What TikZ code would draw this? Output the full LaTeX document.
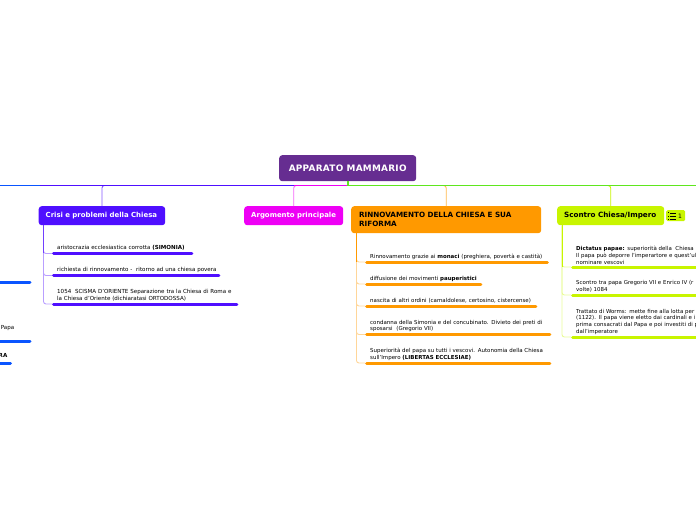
\documentclass[tikz,border=0pt]{standalone}
\usepackage{fontspec}
\setmainfont{DejaVu Sans}
\begin{document}
\begin{tikzpicture}[x=1pt,y=-1pt,
 topic/.style={rounded corners=3pt,anchor=north west,inner sep=0pt,font=\fontsize{6.95}{8.4}\selectfont\bfseries,align=left},
 leaf/.style={anchor=south west,inner xsep=5pt,inner ysep=2.6pt,align=left,font=\fontsize{5.55}{6.5}\selectfont},
 leafr/.style={leaf,font=\fontsize{5.48}{6.5}\selectfont},
 leafs/.style={leaf,font=\fontsize{5.45}{6.6}\selectfont},
 underl/.style={line width=3pt,line cap=round,shorten <=1.5pt,shorten >=1.5pt},
 stem/.style={line width=.9pt,rounded corners=2.5pt},
 main/.style={line width=1pt}]
\useasboundingbox (0,0) rectangle (696,520);
\clip (0,0) rectangle (696,520);
\definecolor{rootc}{HTML}{662D91}
\definecolor{cblue}{HTML}{0A55FF}
\definecolor{cviol}{HTML}{4F0FFF}
\definecolor{cmag}{HTML}{EE00F5}
\definecolor{corg}{HTML}{FF9900}
\definecolor{clime}{HTML}{C8F500}
\definecolor{cgrn}{HTML}{5FE61E}

\node[topic,fill=rootc,text=white,minimum width=137pt,minimum height=26pt,align=center,font=\fontsize{8.9}{9}\selectfont\bfseries] (root) at (279,155) {\addfontfeature{LetterSpace=3}APPARATO MAMMARIO};
\node[topic,fill=cviol,text=white,minimum height=19pt,text width=112.5pt,inner xsep=7pt] (crisi) at (38.5,206) {Crisi e problemi della Chiesa};
\node[topic,fill=cmag,text=white,minimum height=19pt,text width=85pt,inner xsep=7pt] (arg) at (244,206) {Argomento principale};
\node[topic,fill=corg,text=black,minimum height=27pt,text width=174pt,inner xsep=8pt,font=\fontsize{7.2}{9}\selectfont\bfseries] (rinn) at (351,206) {RINNOVAMENTO DELLA CHIESA E SUA\\RIFORMA};
\node[topic,fill=clime,text=black,minimum height=19pt,text width=93pt,inner xsep=7pt,font=\fontsize{7.2}{8.4}\selectfont\bfseries] (sco) at (557,206) {\mbox{Scontro Chiesa/Impero}};
\node[rounded corners=1.5pt,fill=clime,anchor=north west,minimum width=19pt,minimum height=11pt,inner sep=0pt] (badge) at (666,210) {};
\node[anchor=center,inner sep=0pt,font=\fontsize{6}{7}\selectfont] (badgen) at (680,216) {1};
\foreach \yy in {212.9,216,219.1}{
 \fill (668,\yy-.5) rectangle (669,\yy+.5);
 \fill (670,\yy-.35) rectangle (676,\yy+.35);}

% main branches
\coordinate (hl) at (0,185.5);
\coordinate (hr) at (696,185.5);
\coordinate (j) at (348,185.5);
\coordinate (v1) at (294,185.5);
\coordinate (v2) at (40,185.5);
\draw[stem,draw=corg!70] (rinn.north) |- (j);
\draw[stem,draw=cviol!70] (crisi.north) |- (j);
\draw[stem,draw=cmag!60] (arg.north) |- (j);
\draw[stem,draw=clime] (sco.north) |- (j);
\draw[main,draw=cgrn] (j) -- (hr);
\draw[main,draw=cmag] (j) -- (v1);
\draw[main,draw=cviol] (v1) -- (v2);
\draw[main,draw=cblue] (v2) -- (hl);
\draw[line width=1.4pt,draw=cgrn] (root.south -| j) -- (j);

% Crisi leaves
\node[leaf,text width=131pt] (c1) at (52,253.5) {\mbox{aristocrazia ecclesiastica corrotta \textbf{(SIMONIA)}}};
\node[leaf,text width=158pt] (c2) at (52,275.5) {\mbox{richiesta di rinnovamento -\ \ ritorno ad una chiesa povera}};
\node[leaf,text width=176pt] (c3) at (52,304) {\mbox{1054\ \ SCISMA D'ORIENTE Separazione tra la Chiesa di Roma e}\\la Chiesa d'Oriente (dichiaratasi ORTODOSSA)};
\foreach \n in {c1,c2,c3}{
 \draw[stem,draw=cviol!40] (crisi.south west -| 43.5,0) |- (\n.south west);
 \draw[underl,draw=cviol] (\n.south west) -- (\n.south east);}
\draw[line width=.9pt,draw=cviol!80] (43.5,225) -- (43.5,253);

% Rinnovamento leaves
\node[leafr,text width=173.5pt] (r1) at (365,262) {\mbox{Rinnovamento grazie ai \textbf{monaci} (preghiera, povertà e castità)}};
\node[leafr,text width=107pt] (r2) at (365,284) {\mbox{diffusione dei movimenti \textbf{pauperistici}}};
\node[leafr,text width=162pt] (r3) at (365,306) {\mbox{nascita di altri ordini (camaldolese, certosino, cistercense)}};
\node[leafr,text width=176pt] (r4) at (365,334.5) {\mbox{condanna della Simonia e del concubinato. Divieto dei preti di}\\sposarsi\ \ (Gregorio VII)};
\node[leafr,text width=176pt] (r5) at (365,363) {\mbox{Superiorità del papa su tutti i vescovi. Autonomia della Chiesa}\\sull'Impero \textbf{(LIBERTAS ECCLESIAE)}};
\foreach \n in {r1,r2,r3,r4,r5}{
 \draw[stem,draw=corg!40] (rinn.south west -| 356.5,0) |- (\n.south west);
 \draw[underl,draw=corg] (\n.south west) -- (\n.south east);}
\draw[line width=.9pt,draw=corg] (356.5,233) -- (356.5,262);

% Scontro leaves
\node[leafs,text width=200pt] (s1) at (571,267) {\textbf{Dictatus papae:} superiorità della\ \ Chiesa r\\Il papa può deporre l'imperartore e quest'ul\\nominare vescovi};
\node[leafs,text width=200pt] (s2) at (571,295) {Scontro tra papa Gregorio VII e Enrico IV (r\\volte) 1084};
\node[leafs,text width=200pt] (s3) at (571,337) {Trattato di Worms: mette fine alla lotta per\\(1122). Il papa viene eletto dai cardinali e i\\prima consacrati dal Papa e poi investiti di p\\dall'imperatore};
\foreach \n in {s1,s2,s3}{
 \draw[stem,draw=clime!40] (sco.south west -| 562,0) |- (\n.south west);
 \draw[underl,draw=clime] (\n.south west) -- (\n.south east);}
\draw[line width=.9pt,draw=clime] (562,225) -- (562,267);

% clipped leaves at left
\node[leaf,anchor=south east,inner xsep=0pt] (l2) at (14.5,333) {Papa};
\node[leaf,anchor=south east,inner xsep=0pt,font=\fontsize{5.55}{6.5}\selectfont\bfseries] (l3) at (7.5,360) {RA};
\coordinate (l1e) at (31.5,282.5);
\coordinate (l2e) at (31.5,341.5);
\coordinate (l3e) at (12,363.5);
\draw[underl,draw=cblue] (-5,282.5) -- (l1e);
\draw[underl,draw=cblue] (-5,341.5) -- (l2e);
\draw[underl,draw=cblue] (-5,363.5) -- (l3e);
\end{tikzpicture}
\end{document}
